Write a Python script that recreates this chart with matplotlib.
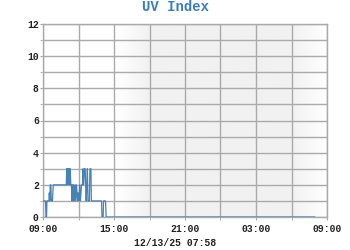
import numpy as np
import matplotlib
matplotlib.use("Agg")
import matplotlib.pyplot as plt
from matplotlib.colors import LinearSegmentedColormap

# UV index readings, minutes since 09:00
minutes = [0, 13, 15, 18, 20, 24, 30, 32, 34, 37, 40, 42, 45, 48, 52, 55, 58,
           62, 80, 100, 118, 120, 122, 124, 126, 128, 130, 133, 136, 138, 141,
           144, 147, 150, 152, 155, 158, 160, 163, 166, 170, 175, 178, 182, 186,
           190, 195, 200, 203, 206, 210, 214, 216, 219, 222, 225, 228, 232, 235,
           238, 243, 245, 248, 250, 252, 270, 290, 297, 299, 305, 307, 310, 317,
           320, 330, 332, 1378]
uv = [1, 1, 0, 0, 1, 1, 1, 1.5, 1, 2, 2, 1, 1, 1, 2, 2, 2,
      2, 2, 2, 2, 3, 2, 3, 2.5, 3, 2, 3, 2, 3, 2,
      2, 1, 2, 1, 2, 1, 1.5, 2, 1, 2, 1, 1.5, 1, 2,
      1, 2, 2, 3, 2, 3, 3, 2, 1, 2, 3, 1, 1, 1,
      3, 3, 1, 1, 1, 1, 1, 1, 1, 0, 0, 1, 1, 1,
      0, 0, 0, 0]

xtick_hours = [0, 6, 12, 18, 24]
xtick_labels = ["09:00", "15:00", "21:00", "03:00", "09:00"]
ytick_vals = [0, 2, 4, 6, 8, 10, 12]

# night shading (hours since 09:00)
dusk_start, dusk_end = 6.25, 9.0
dawn_start, dawn_end = 21.0, 24.0

title = "UV Index"
stamp = "12/13/25 07:58"

mono = "Liberation Mono"
line_col = "#4682b4"
grid_col = "#aaaaaa"

fig = plt.figure(figsize=(3.5, 2.5), dpi=100)
ax = fig.add_axes([43 / 350, 1 - 217 / 250, 284 / 350, 193 / 250])

# background gradient for night
xs = np.linspace(0, 24, 600)
shade = np.interp(xs, [0, dusk_start, dusk_end, dawn_start, dawn_end],
                  [0, 0, 1, 1, 0])
cmap = LinearSegmentedColormap.from_list("night", ["#ffffff", "#f1f1f1"])
ax.imshow(shade[np.newaxis, :], aspect="auto", cmap=cmap, vmin=0, vmax=1,
          extent=[0, 24, 0, 12], zorder=0, interpolation="bilinear")

hours = np.array(minutes) / 60.0
ax.plot(hours, uv, color=line_col, lw=0.9, zorder=3)

ax.set_xlim(0, 24)
ax.set_ylim(0, 12)
ax.set_xticks(xtick_hours)
ax.set_xticklabels(xtick_labels)
ax.set_xticks(np.arange(0, 25, 3), minor=True)
ax.set_yticks(ytick_vals)
ax.set_yticks(np.arange(0, 13, 1), minor=True)

ax.grid(True, which="both", color=grid_col, lw=1.0, zorder=1)
ax.set_axisbelow(True)
for s in ax.spines.values():
    s.set_color(grid_col)
    s.set_linewidth(1.0)

ax.tick_params(which="both", length=2, color=grid_col, pad=1)
ax.tick_params(axis="x", which="major", pad=3)
for lab in ax.get_xticklabels() + ax.get_yticklabels():
    lab.set_fontfamily(mono)
    lab.set_fontweight("bold")
    lab.set_fontsize(7)
    lab.set_color("#222222")

fig.text(0.5, 1 - 7 / 250, title, ha="center", va="center", fontsize=10,
         fontweight="bold", fontfamily=mono, color="#3a7dbf")
fig.text(0.5, 1 - 243 / 250, stamp, ha="center", va="center", fontsize=7,
         fontweight="bold", fontfamily=mono, color="#222222")

fig.savefig("out.png", dpi=100)
